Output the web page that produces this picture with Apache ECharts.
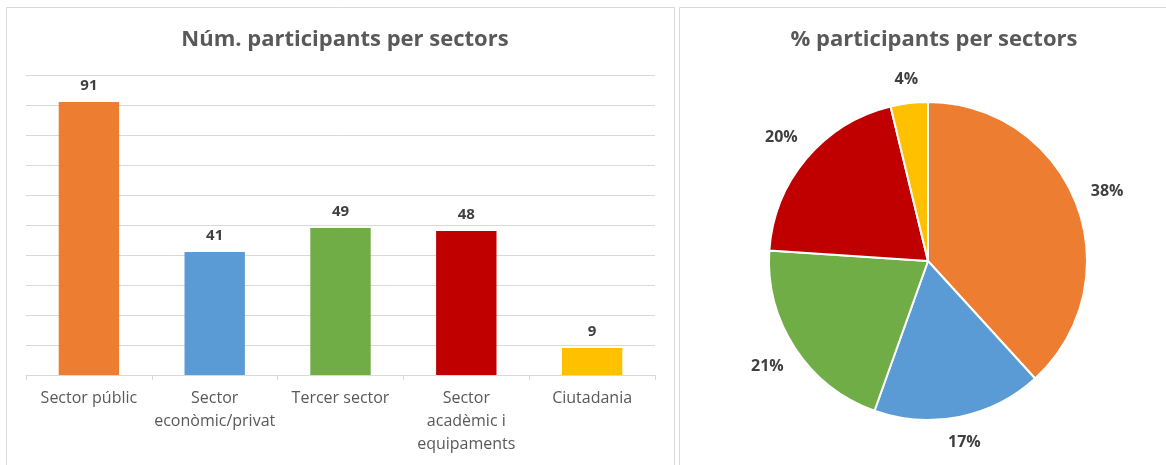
<!DOCTYPE html>
<html><head><meta charset="utf-8">
<script src="https://cdn.jsdelivr.net/npm/echarts@6/dist/echarts.min.js"></script>
<style>html,body{margin:0;padding:0;background:#fff}#c{width:1166px;height:465px}</style>
</head><body><div id="c"></div>
<script>
const categories = ['Sector públic', 'Sector\neconòmic/privat', 'Tercer sector', 'Sector\nacadèmic i\nequipaments', 'Ciutadania'];
const values = [91, 41, 49, 48, 9];
const colors = ['#ED7D31', '#5B9BD5', '#70AD47', '#C00000', '#FFC000'];
const barTitle = 'Núm. participants per sectors';
const pieTitle = '% participants per sectors';

const font = '"Open Sans", "Noto Sans", sans-serif';
const chart = echarts.init(document.getElementById('c'), null, {renderer: 'canvas'});
const total = values.reduce((a, b) => a + b, 0);
const pct = p => Math.round(p.value / total * 100) + '%';
const PC = [928, 261], PR = 159, GAP = 15;
chart.setOption({
  animation: false,
  graphic: [
    {type: 'rect', shape: {x: 6.5, y: 7.5, width: 668, height: 470}, style: {fill: 'none', stroke: '#d9d9d9', lineWidth: 1}},
    {type: 'rect', shape: {x: 679.5, y: 7.5, width: 500, height: 470}, style: {fill: 'none', stroke: '#d9d9d9', lineWidth: 1}}
  ],
  title: [
    {text: barTitle, left: 340, top: 24, textAlign: 'center',
     textStyle: {fontFamily: font, fontSize: 22, fontWeight: 'bold', color: '#595959'}},
    {text: pieTitle, left: 929, top: 24, textAlign: 'center',
     textStyle: {fontFamily: font, fontSize: 22, fontWeight: 'bold', color: '#595959'}}
  ],
  grid: {left: 26, right: 511, top: 75, bottom: 90, containLabel: false},
  xAxis: {
    type: 'category', data: categories,
    axisLine: {lineStyle: {color: '#d9d9d9'}},
    axisTick: {show: true, length: 5, lineStyle: {color: '#d9d9d9'}},
    axisLabel: {fontFamily: font, fontSize: 16, color: '#595959', lineHeight: 23, margin: 12, interval: 0}
  },
  yAxis: {
    type: 'value', min: 0, max: 100, interval: 10,
    axisLabel: {show: false}, axisLine: {show: false}, axisTick: {show: false},
    splitLine: {lineStyle: {color: '#d9d9d9'}}
  },
  series: [
    {
      type: 'bar', barCategoryGap: '52%',
      data: values.map((v, i) => ({value: v, itemStyle: {color: colors[i]}})),
      label: {show: true, position: 'top', distance: 9, fontFamily: font, fontSize: 15, fontWeight: 'bold', color: '#404040'}
    },
    {
      type: 'pie', center: PC, radius: PR, startAngle: 90, clockwise: true,
      data: values.map((v, i) => ({name: categories[i], value: v, itemStyle: {color: colors[i]}})),
      itemStyle: {borderColor: '#fff', borderWidth: 2},
      label: {show: false},
      labelLine: {show: false},
      emphasis: {disabled: true}
    },
    {
      type: 'pie', center: PC, radius: [PR, PR + 60], startAngle: 90, clockwise: true, silent: true,
      data: values.map((v, i) => ({name: categories[i], value: v})),
      itemStyle: {color: 'rgba(0,0,0,0)', borderWidth: 0},
      label: {show: true, position: 'inside', fontFamily: font, fontSize: 16, fontWeight: 'bold', color: '#404040',
        formatter: pct},
      labelLine: {show: false},
      labelLayout: function (p) {
        const r = p.labelRect;
        const mx = r.x + r.width / 2, my = r.y + r.height / 2;
        let ux = mx - PC[0], uy = my - PC[1];
        const len = Math.hypot(ux, uy) || 1;
        ux /= len; uy /= len;
        const ext = Math.abs(ux) * r.width / 2 + Math.abs(uy) * r.height / 2;
        const d = PR + GAP + ext;
        return {x: PC[0] + ux * d, y: PC[1] + uy * d, align: 'center', verticalAlign: 'middle'};
      },
      emphasis: {disabled: true}
    }
  ]
});
</script></body></html>
